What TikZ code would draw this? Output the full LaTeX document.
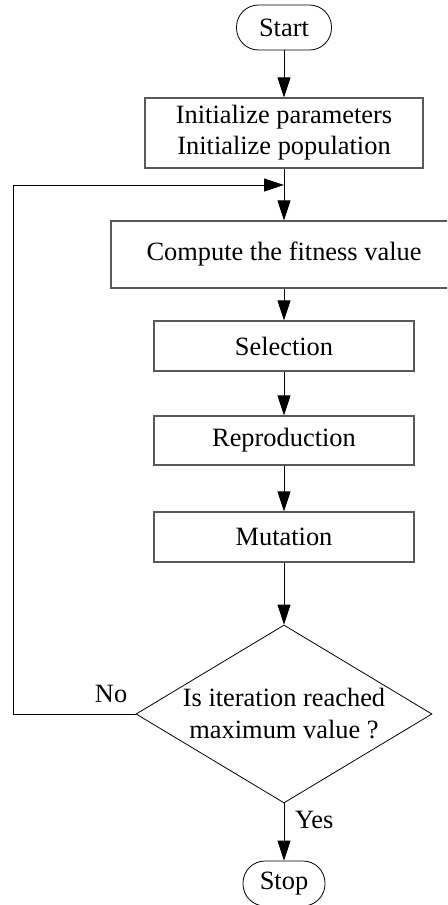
\documentclass[tikz,border=0pt]{standalone}
\usepackage{fontspec}
\setmainfont{Liberation Serif}
\usetikzlibrary{arrows.meta}
\usetikzlibrary{shapes.geometric}

\begin{document}
\begin{tikzpicture}[x=0.5pt,y=-0.5pt,
  font=\fontsize{13.2}{15.5}\selectfont,
  terminal/.style={draw,rounded corners=11pt,minimum height=22.5pt,inner sep=0pt},
  process/.style={draw=black!65,line width=0.6pt,align=center,inner sep=0pt},
  decision/.style={draw,diamond,inner sep=0pt,minimum width=148pt,minimum height=89pt},
  flow/.style={-{Triangle[length=10pt,width=6.5pt]}}]
\clip (0,0) rectangle (447,905);

\node[terminal,minimum width=47.5pt] (start) at (284,27.5) {Start};
\node[process,minimum width=139pt,minimum height=35pt] (init) at (284,133)
  {Initialize parameters\\Initialize population};
\node[process,minimum width=173pt,minimum height=33.5pt] (fit) at (284,254.5)
  {Compute the fitness value};
\node[process,minimum width=130pt,minimum height=25pt] (select) at (284,346) {Selection};
\node[process,minimum width=130pt,minimum height=24.5pt] (repro) at (284,440.5) {Reproduction};
\node[process,minimum width=130pt,minimum height=25pt] (mutate) at (284,537) {Mutation};
\node[decision,label={[align=center,font=\fontsize{13.2}{16}\selectfont]center:Is iteration reached\\maximum value ?}]
  (check) at (284,714) {};
\node[terminal,minimum width=41pt] (stop) at (284,883.5) {Stop};

\path
 (284,185) coordinate (join)
 (13,185)  coordinate (loopT)
 (13,714)  coordinate (loopB)
;

\draw[flow] (start) -- (init);
\draw (init) -- (join);
\draw[flow] (join) -- (fit);
\draw[flow] (fit) -- (select);
\draw[flow] (select) -- (repro);
\draw[flow] (repro) -- (mutate);
\draw[flow] (mutate) -- (check);
\draw[flow] (check.west) -- node[pos=0.2,above=2pt] {No} (loopB)
       -- (loopT)
       -- (join);
\draw[flow] (check) -- node[pos=0.29,right=2pt] {Yes} (stop);
\end{tikzpicture}
\end{document}
